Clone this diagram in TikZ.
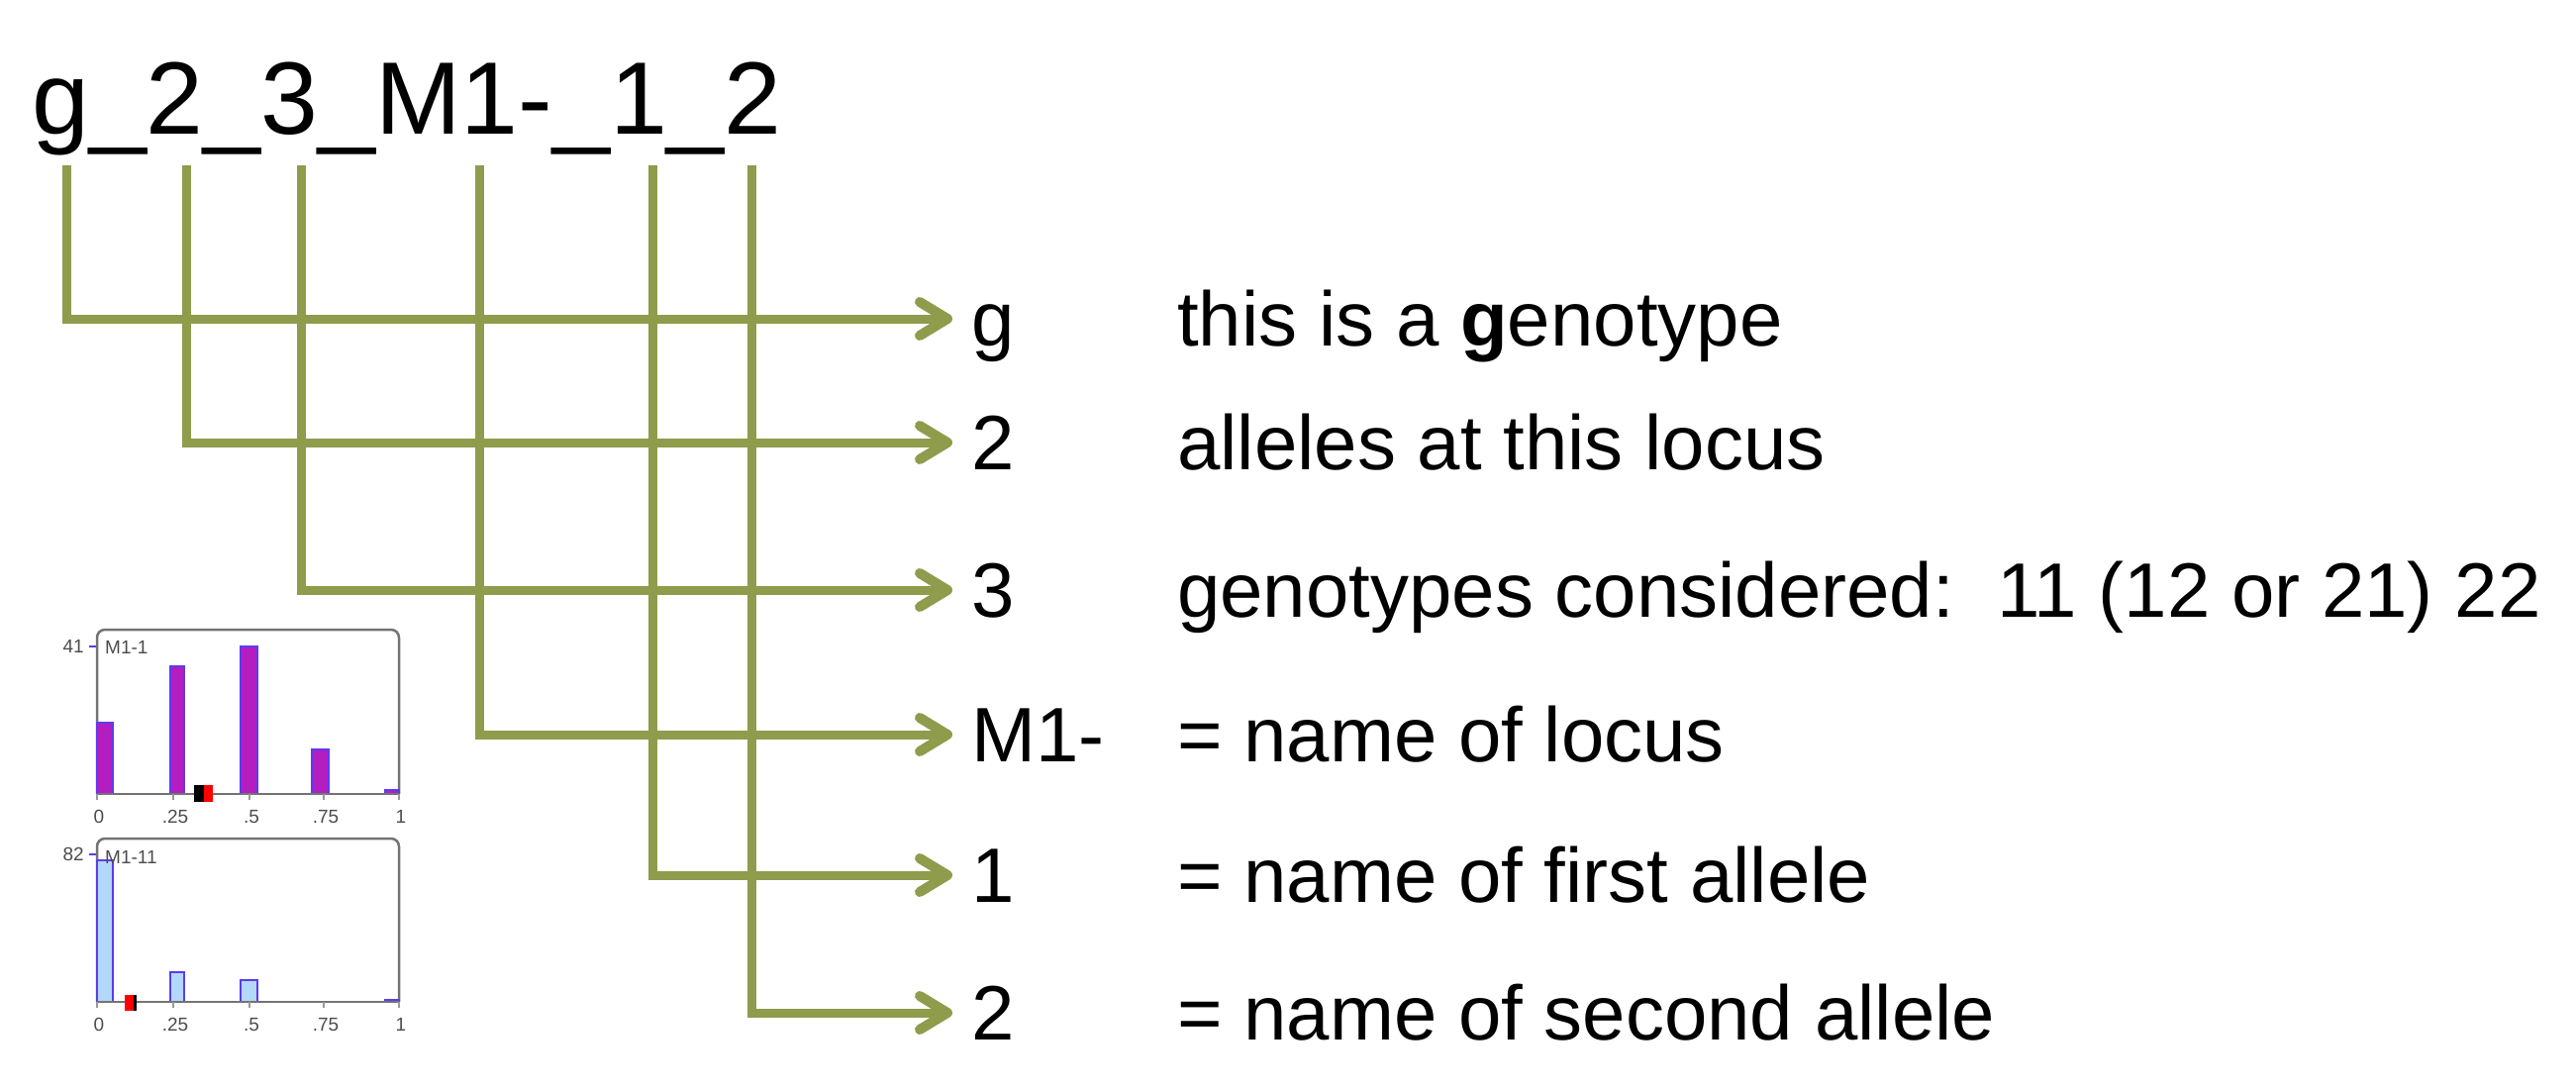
\documentclass[tikz,border=0pt]{standalone}
\usepackage{fontspec}
\setmainfont{Liberation Sans}
\usetikzlibrary{arrows.meta}
\definecolor{olive}{HTML}{8E9C4C}
\definecolor{barm}{HTML}{B41EC0}
\definecolor{barb}{HTML}{B4D8FC}
\definecolor{edge}{HTML}{5A3CF0}
\begin{document}
\begin{tikzpicture}[x=1pt,y=-1pt,
 conn/.style={draw=olive,line width=9pt,-{Straight Barb[length=28pt,width=34pt,line width=10pt,round]}},
 big/.style={font=\fontsize{78}{90}\selectfont,anchor=base west,inner sep=0},
 ttl/.style={font=\fontsize{104}{120}\selectfont,anchor=base west,inner sep=0},
 small/.style={font=\fontsize{19}{22}\selectfont,text=black!70,inner sep=0},
 frame/.style={draw=black!55,line width=2.5pt,rounded corners=8pt},
 barM/.style={fill=barm,draw=edge,line width=2pt},
 barB/.style={fill=barb,draw=edge,line width=2pt}]
\useasboundingbox (0,0) rectangle (2602,1100);
\node[ttl] (title) at (32,135) {g\_2\_3\_M1-\_1\_2};
\foreach \n/\x/\y/\k/\d in {a/67/322/g/{this is a \textbf{g}enotype},
  b/188/447/2/{alleles at this locus},
  c/304/596/3/{genotypes considered:\ \ 11 (12 or 21) 22},
  d/484/742/M1-/{= name of locus},
  e/659/884/1/{= name of first allele},
  f/759/1023/2/{= name of second allele}}{
  \coordinate (t\n) at (\x,167);
  \coordinate (c\n) at (\x,\y);
  \coordinate (h\n) at (962,\y);
  \node[big] (k\n) at (981,\y+27) {\k};
  \node[big] (d\n) at (1189,\y+27) {\d};
}
\foreach \n in {a,b,c,d,e,f}{\draw[conn] (t\n) -- (c\n) -- (h\n);}
% chart 1
\draw[frame] (98,802) -- (98,636) -- (403,636) -- (403,802);
\draw[barM] (98,802) rectangle (114,730);
\draw[barM] (172,802) rectangle (186,673);
\draw[barM] (243,802) rectangle (260,653);
\draw[barM] (315,802) rectangle (332,757);
\draw[barM] (389,802) rectangle (403,798);
\draw[black!55,line width=2.5pt] (98,802) -- (403,802);
\foreach \x in {98,175,252,327,403}\draw[black!40,line width=1.5pt] (\x,802) -- (\x,808);
\fill[black] (196,793) rectangle (206,810);
\fill[red] (206,793) rectangle (215,810);
\draw[edge,line width=2pt] (90,653) -- (97,653);
\node[small,anchor=east] (n41) at (85,653) {41};
\node[small,anchor=west] (m1) at (106,654) {M1-1};
\foreach \x/\t in {98/0,175/.25,252/.5,327/.75,403/1}\node[small] at (\x+2,825) {\t};
% chart 2
\draw[frame] (98,1012) -- (98,847) -- (403,847) -- (403,1012);
\draw[barB] (98,1012) rectangle (114,869);
\draw[barB] (172,1012) rectangle (186,982);
\draw[barB] (243,1012) rectangle (260,990);
\draw[barM] (389,1012) rectangle (403,1010);
\draw[black!55,line width=2.5pt] (98,1012) -- (403,1012);
\foreach \x in {98,175,252,327,403}\draw[black!40,line width=1.5pt] (\x,1012) -- (\x,1018);
\fill[red] (126,1005) rectangle (135,1021);
\fill[black] (135,1005) rectangle (138,1021);
\draw[edge,line width=2pt] (90,863) -- (97,863);
\node[small,anchor=east] (n82) at (85,863) {82};
\node[small,anchor=west] (m2) at (106,866) {M1-11};
\foreach \x/\t in {98/0,175/.25,252/.5,327/.75,403/1}\node[small] at (\x+2,1035) {\t};
\end{tikzpicture}
\end{document}
